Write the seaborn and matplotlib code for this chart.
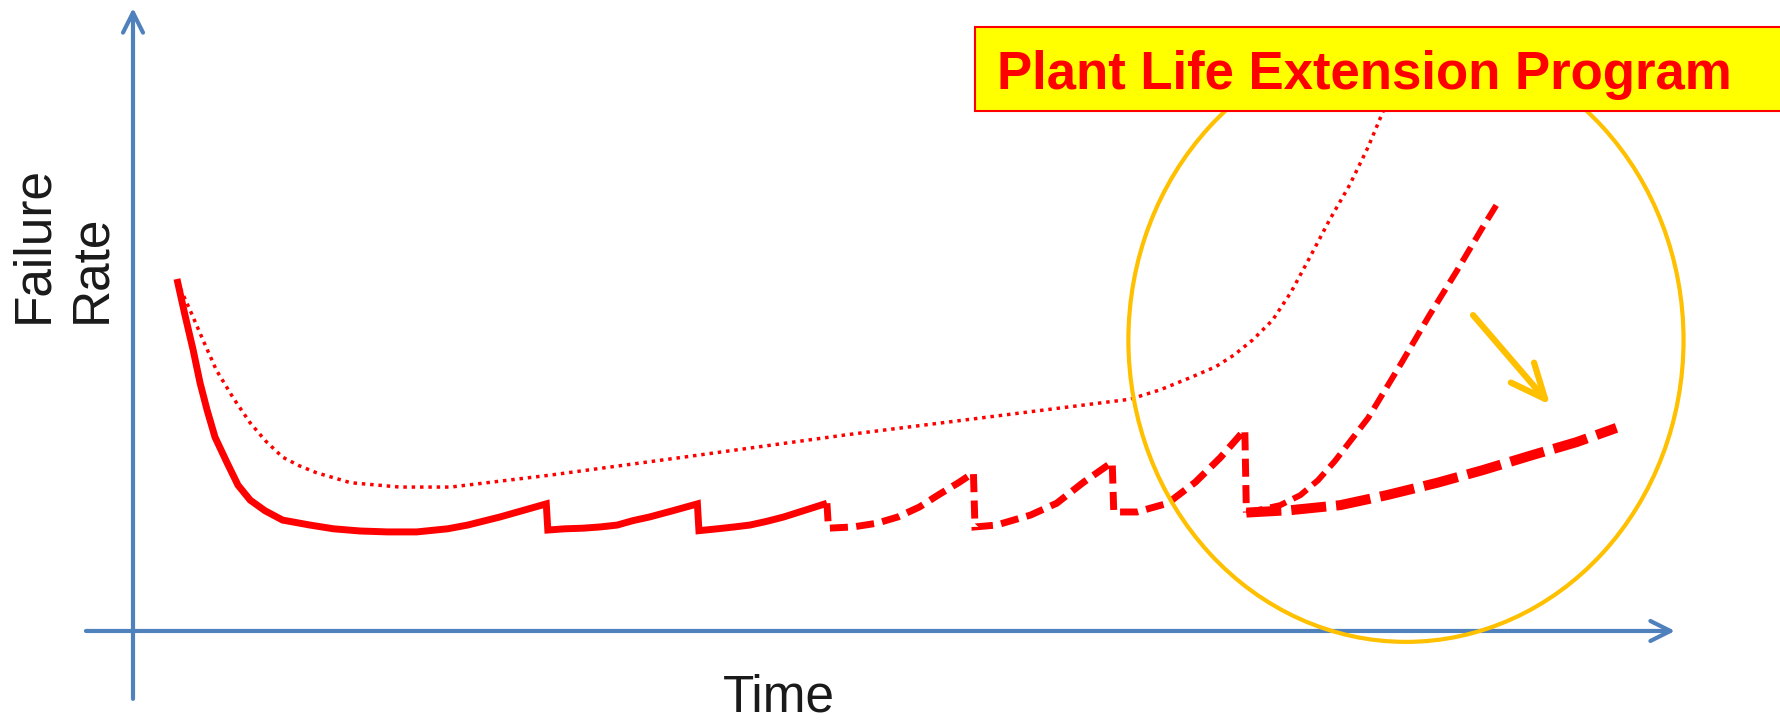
import matplotlib
matplotlib.use('Agg')
import matplotlib.pyplot as plt
from matplotlib.patches import Ellipse, Rectangle
import seaborn as sns

# time axis runs 0..100, failure rate 0..100 (arbitrary units)
solid_t = [2.85, 3.37, 3.9, 4.35, 4.8, 5.32, 6.1, 6.81, 7.6, 8.56, 9.7, 11.48, 13.0,
           14.72, 16.5, 18.4, 20.4, 21.7, 23.8, 26.8,
           26.9, 28.0, 29.2, 30.3, 31.4, 32.4, 33.5, 35.0, 36.6,
           36.7, 37.9, 39.0, 40.0, 41.1, 42.2, 43.6, 45.0]
solid_r = [56.5, 50.7, 45.1, 39.8, 35.5, 31.1, 27.0, 23.4, 21.0, 19.3, 17.8, 17.0, 16.4,
           16.05, 15.9, 15.9, 16.4, 17.0, 18.3, 20.4,
           16.2, 16.4, 16.5, 16.7, 17.0, 17.7, 18.3, 19.3, 20.4,
           16.1, 16.4, 16.7, 17.0, 17.6, 18.3, 19.4, 20.5]

maint_t = [45.0, 45.1, 46.7, 48.25, 49.6, 51.0, 52.2, 53.6, 54.5,
           54.6, 56.0, 58.2, 59.9, 61.6, 63.5,
           63.6, 65.1, 67.1, 68.9, 70.5, 72.1, 72.2]
maint_r = [20.5, 16.5, 16.7, 17.3, 18.3, 19.9, 21.8, 23.9, 25.4,
           16.7, 17.0, 18.6, 20.5, 23.8, 27.1,
           19.1, 19.1, 20.5, 23.9, 27.8, 32.3, 19.0]

# without life extension: wear-out
wear_t = [72.2, 74.4, 75.7, 76.85, 77.95, 80.1, 82.3, 84.05, 85.8, 87.5, 88.5]
wear_r = [19.0, 20.2, 21.8, 24.2, 27.3, 34.2, 43.2, 50.6, 57.6, 64.7, 68.7]

# with life extension program
plex_t = [72.2, 75.1, 78.3, 81.3, 84.6, 87.5, 90.7, 93.6, 96.2]
plex_r = [19.0, 19.4, 20.2, 21.8, 23.8, 25.8, 28.2, 30.3, 32.6]

# no maintenance
nomaint_t = [2.85, 3.7, 4.54, 5.4, 6.5, 7.6, 8.6, 9.7, 10.8, 11.9, 14.1, 17.3, 20.6,
             27.0, 35.7, 46.3, 64.66, 66.6, 68.5, 70.2, 71.4, 72.6, 73.9, 75.1,
             76.3, 77.6, 78.9, 80.1, 81.1, 81.65]
nomaint_r = [56.2, 51.5, 46.7, 41.9, 37.4, 33.4, 30.5, 27.9, 26.5, 25.4, 23.8, 23.1, 23.1,
             25.0, 27.9, 31.5, 37.2, 38.7, 40.6, 42.4, 44.3, 46.7, 49.9, 54.4,
             59.9, 66.0, 71.6, 77.7, 83.6, 87.6]

title_text = "Plant Life Extension Program"
xlabel_text = "Time"
ylabel_text = "Failure\nRate"

RED = '#FF0000'
BLUE = '#4F81BD'
GOLD = '#FFC000'

sns.set_theme(style='white')
plt.rcParams['font.family'] = ['Liberation Sans', 'DejaVu Sans']

fig = plt.figure(figsize=(17.81, 7.2), dpi=100)
ax = fig.add_axes([0, 0, 1, 1])

sns.lineplot(x=nomaint_t, y=nomaint_r, ax=ax, sort=False, estimator=None,
             color=RED, lw=2.5, linestyle=(0, (1, 1.4)), zorder=2)
sns.lineplot(x=solid_t, y=solid_r, ax=ax, sort=False, estimator=None,
             color=RED, lw=5, solid_joinstyle='miter', solid_capstyle='butt', zorder=3)
sns.lineplot(x=maint_t, y=maint_r, ax=ax, sort=False, estimator=None,
             color=RED, lw=5, linestyle=(0, (2.6, 1.2)), dash_joinstyle='miter', zorder=3)
sns.lineplot(x=wear_t, y=wear_r, ax=ax, sort=False, estimator=None,
             color=RED, lw=4.3, linestyle=(0, (2.8, 1.3)), zorder=3)
sns.lineplot(x=plex_t, y=plex_r, ax=ax, sort=False, estimator=None,
             color=RED, lw=7.2, linestyle=(0, (3.5, 1.0)), zorder=3)

# highlight circle and arrow
ax.add_patch(Ellipse((82.55, 46.7), 36.0, 96.9, fill=False, ec=GOLD, lw=3, zorder=4))
ax.annotate('', xy=(91.9, 36.3), xytext=(86.9, 50.7),
            arrowprops=dict(arrowstyle='->,head_length=0.5,head_width=0.22',
                            color=GOLD, lw=4.5, mutation_scale=50,
                            shrinkA=0, shrinkB=0), zorder=4)

# axes drawn as arrows
arrow_kw = dict(arrowstyle='->,head_length=0.4,head_width=0.2', color=BLUE,
                lw=3, mutation_scale=36, shrinkA=0, shrinkB=0)
ax.annotate('', xy=(100, 0), xytext=(-3.05, 0), arrowprops=arrow_kw, zorder=1)
ax.annotate('', xy=(0, 100), xytext=(0, -10.9), arrowprops=arrow_kw, zorder=1)

ax.set_xlim(-8.625, 106.87)
ax.set_ylim(-14.29, 101.28)
ax.axis('off')

# title box
fig.patches.append(Rectangle((0.5474, 0.8458), 0.47, 0.1167, transform=fig.transFigure,
                             facecolor='#FFFF00', edgecolor=RED, lw=1.5, zorder=5))
fig.text(0.5598, 1 - 89 / 720, title_text, color=RED, fontsize=38, fontweight='bold',
         ha='left', va='baseline', zorder=6)

fig.text(778.5 / 1781, 1 - 711 / 720, xlabel_text, fontsize=37, color='#1a1a1a',
         ha='center', va='baseline')
fig.text(63 / 1781, 1 - 323 / 720, ylabel_text, fontsize=37, color='#1a1a1a',
         rotation=90, ha='center', va='bottom', multialignment='left', linespacing=1.25)

fig.savefig('out.png', dpi=100)
